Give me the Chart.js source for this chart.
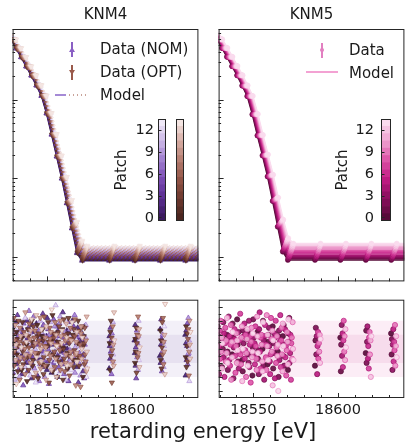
<!DOCTYPE html>
<html>
<head>
<meta charset="utf-8">
<script src="https://cdn.jsdelivr.net/npm/chart.js@4.4.1/dist/chart.umd.min.js"></script>
<style>
  body { margin: 0; width: 406px; height: 443px; overflow: hidden; background: #fff; position: relative;
         font-family: 'DejaVu Sans', sans-serif; color: #1a1a1a; }
  canvas, .abs { position: absolute; }
  .txt { font-size: 15px; line-height: 18px; white-space: nowrap; }
</style>
</head>
<body>
<canvas id="top4" width="195" height="286" style="left:8px;top:0px"></canvas>
<canvas id="top5" width="195" height="286" style="left:214px;top:0px"></canvas>
<canvas id="res4" width="195" height="125" style="left:8px;top:295px"></canvas>
<canvas id="res5" width="195" height="125" style="left:214px;top:295px"></canvas>
<canvas id="cbNOM" width="60" height="115" style="left:110px;top:110px"></canvas>
<canvas id="cbOPT" width="16" height="115" style="left:172px;top:110px"></canvas>
<canvas id="cb5" width="70" height="115" style="left:325px;top:110px"></canvas>

<!-- legend KNM4 -->
<div class="abs" style="left:71.25px;top:42px;width:1.5px;height:15px;background:#8a5fc4"></div>
<div class="abs" style="left:69px;top:46.5px;width:0;height:0;border-left:3px solid transparent;border-right:3px solid transparent;border-bottom:5px solid #8a5fc4"></div>
<div class="abs txt" style="left:100px;top:40px">Data (NOM)</div>
<div class="abs" style="left:71.25px;top:65px;width:1.5px;height:15px;background:#9a5a4b"></div>
<div class="abs" style="left:69px;top:69.5px;width:0;height:0;border-left:3px solid transparent;border-right:3px solid transparent;border-top:5px solid #9a5a4b"></div>
<div class="abs txt" style="left:100px;top:63px">Data (OPT)</div>
<div class="abs" style="left:55px;top:94.25px;width:11px;height:1.5px;background:#a58ad6"></div>
<div class="abs" style="left:69px;top:94.25px;width:19px;height:1.5px;background:repeating-linear-gradient(90deg,#c9a39a 0 1.5px,transparent 1.5px 4px)"></div>
<div class="abs txt" style="left:100px;top:86px">Model</div>

<!-- legend KNM5 -->
<div class="abs" style="left:321.25px;top:42.5px;width:1.5px;height:15px;background:#e27fc0"></div>
<div class="abs" style="left:319.75px;top:47.75px;width:4.5px;height:4.5px;border-radius:50%;background:#e27fc0"></div>
<div class="abs txt" style="left:349px;top:41px">Data</div>
<div class="abs" style="left:306px;top:71.25px;width:32px;height:1.8px;background:#f3a2d3"></div>
<div class="abs txt" style="left:349px;top:63.5px">Model</div>

<div class="abs" style="left:0;top:419px;width:406px;text-align:center;font-size:21px;line-height:24px">retarding energy [eV]</div>

<script>
// ---- data ----
const patches = [0, 1, 2, 3, 4, 5, 6, 7, 8, 9, 10, 11, 12, 13];
const energies = [18530, 18533, 18536, 18539, 18542, 18545, 18548, 18551, 18554, 18557,
                  18560, 18563, 18566, 18569, 18572, 18588, 18603, 18618, 18633];
// signal rate above background (arbitrary units, log axis)
const signal4 = [581, 450, 347, 264, 202, 151, 111, 66, 35, 18, 9.0, 3.9, 1.4, 0.22, 0, 0, 0, 0, 0];
const signal5 = [585, 455, 350, 266, 203, 150, 110, 64, 34, 18.5, 9.6, 4.2, 1.5, 0.25, 0, 0, 0, 0, 0];
// model drawn a little past the scan on both sides
const edgeEnergies = [18527, 18645];
const edgeSignal4 = [752, 0];
const edgeSignal5 = [758, 0];
// per-patch background and retarding-energy offset
const bgNOM  = [0.89, 0.92, 0.95, 0.98, 1.01, 1.04, 1.07, 1.10, 1.13, 1.17, 1.21, 1.25, 1.29, 1.34];
const bgOPT  = [0.90, 0.93, 0.96, 0.99, 1.02, 1.05, 1.09, 1.12, 1.16, 1.20, 1.24, 1.28, 1.33, 1.38];
const bgKNM5 = [0.91, 0.94, 0.97, 1.01, 1.04, 1.08, 1.12, 1.16, 1.20, 1.25, 1.30, 1.35, 1.41, 1.47];
const shiftNOM  = [-1.5, -1.3, -1.1, -0.9, -0.7, -0.5, -0.3, -0.1, 0.1, 0.3, 0.5, 0.7, 0.9, 1.1];
const shiftOPT  = [-1.2, -1.0, -0.8, -0.5, -0.3, -0.1, 0.1, 0.3, 0.6, 0.8, 1.0, 1.2, 1.4, 1.6];
const shiftKNM5 = [-1.6, -1.3, -1.1, -0.8, -0.6, -0.3, -0.1, 0.2, 0.4, 0.7, 0.9, 1.2, 1.4, 1.7];

// normalised residuals, one row per energy, one column per patch
const resNOM = [
  [0.8, -1.2, 0.3, 1.6, -0.4, 2.1, -1.7, 0.5, -0.9, 1.1, 0.2, -2.2, 1.4, -0.6],
  [-0.3, 1.9, -1.1, 0.6, 2.4, -0.8, 0.9, -1.5, 0.1, 1.3, -2.0, 0.7, -0.2, 1.7],
  [1.5, -0.5, -1.8, 0.9, 0.0, 1.2, -2.6, 1.8, -0.7, 0.4, 1.0, -1.3, 2.2, -0.1],
  [-1.0, 0.6, 2.0, -0.3, -1.6, 0.8, 1.5, -0.9, 2.7, -0.4, 0.3, 1.1, -1.9, 0.5],
  [0.2, -2.1, 1.2, 1.7, -0.6, -1.2, 0.4, 2.3, -0.2, -1.4, 1.6, 0.0, 0.9, -2.4],
  [1.8, 0.4, -0.7, -1.9, 1.0, 0.3, -0.4, 1.3, -2.3, 0.7, -1.1, 2.0, -0.5, 1.2],
  [-0.6, 1.1, 0.6, -1.3, 2.5, -0.2, 1.7, -0.8, 0.5, -2.0, 0.9, -0.3, 1.5, 0.1],
  [0.9, -1.5, 2.2, 0.2, -0.9, 1.4, -0.1, -2.5, 1.0, 0.6, -0.7, 1.9, -1.2, 0.4],
  [-1.7, 0.3, -0.4, 1.0, 0.7, -1.0, 2.1, 0.4, -1.4, 1.6, -0.2, 0.8, 3.1, -0.9],
  [0.5, 1.6, -2.0, -0.5, 1.3, 0.9, -1.3, 0.1, 1.8, -0.6, 2.3, -1.6, 0.2, 1.0],
  [-0.2, -0.8, 1.0, 2.6, -1.1, 0.2, 0.8, -1.8, -0.3, 1.2, -0.5, 0.6, -2.2, 1.9],
  [1.3, 0.0, -1.4, 0.4, 1.9, -2.3, 0.5, 1.1, -0.8, -0.1, 1.4, -0.9, 0.7, -1.5],
  [-0.9, 2.0, 0.7, -1.0, -0.2, 1.6, -0.6, 0.9, 2.4, -1.7, 0.1, 1.3, -0.4, 0.6],
  [0.4, -1.3, 1.5, 0.8, -2.4, 0.5, 1.2, -0.3, -1.1, 0.9, -1.9, 0.2, 1.1, -0.7],
  [1.1, 0.7, -0.5, -1.6, 0.6, -0.4, -2.1, 1.6, 0.3, -0.9, 0.8, 1.7, -1.3, -2.0],
  [-1.4, 0.9, 0.2, -0.7, 1.5, -0.2, 0.6, -1.8, 1.1, 0.3, -0.9, 1.9, -0.4, 0.7],
  [0.6, -0.3, 1.7, -1.2, 0.1, -2.1, 0.8, 1.3, -0.6, 0.4, -1.5, 0.9, 2.0, -0.8],
  [-0.5, 1.4, -1.0, 0.3, 2.1, 0.7, -1.6, -0.2, 1.0, -0.9, 0.5, -1.3, 0.2, 1.6],
  [1.0, -1.9, 0.4, 1.3, -0.8, 0.2, 1.8, -1.1, -0.4, 2.2, -0.3, 0.6, -2.3, -0.1]
];
const resOPT = [
  [-0.7, 1.3, -1.9, 0.4, 1.0, -0.3, 2.2, -1.2, 0.6, -0.1, 1.7, -0.8, 0.3, -2.5],
  [1.2, -0.4, 0.7, -1.6, 0.2, 2.0, -0.9, 0.5, -2.2, 1.5, -0.6, 0.9, -1.3, 0.1],
  [-1.5, 0.8, 1.9, -0.2, -1.1, 0.4, 1.2, -0.7, 0.0, -1.8, 2.6, -0.4, 1.0, 0.5],
  [0.3, -2.3, -0.6, 1.4, 0.9, -1.5, 0.1, 1.8, -0.5, 0.7, -1.0, 1.3, -0.2, 2.1],
  [2.0, 0.5, -1.2, -0.8, 1.6, 0.2, -2.0, 0.8, 1.3, -0.3, 0.4, -1.7, 2.4, -0.6],
  [-0.4, 1.7, 0.9, -2.1, -0.3, 1.1, 0.6, -1.0, 0.3, 2.2, -1.4, 0.0, -0.9, 1.4],
  [0.9, -1.1, 1.4, 0.6, -1.8, -0.6, 2.3, 0.2, -1.2, 0.8, 0.1, -2.2, 1.6, -0.3],
  [-1.2, 0.2, -0.3, 1.9, 0.5, -2.4, -0.8, 1.5, 0.7, -0.5, 1.2, 0.4, -1.5, 2.8],
  [0.6, 2.4, -1.6, -0.4, 1.1, 0.8, -0.2, -1.3, 1.9, 0.3, -0.7, 1.0, -2.0, 0.2],
  [-2.0, -0.6, 0.5, 1.2, -0.9, 1.6, 0.3, -0.1, -1.5, 2.0, 0.9, -1.1, 0.4, 1.3],
  [1.4, 0.1, -2.2, 0.0, 2.1, -0.7, 1.0, -1.6, 0.6, -1.0, -0.4, 1.8, 0.8, -1.2],
  [-0.3, -1.4, 1.1, 2.2, -0.5, 0.4, -1.9, 0.7, 1.5, -0.2, -1.1, 0.6, -0.6, 1.9],
  [0.7, 1.0, -0.8, -1.3, 1.4, -0.1, 0.9, 2.1, -0.4, -2.6, 0.5, -0.3, 1.2, -0.9],
  [-0.8, 0.4, 2.0, -0.6, -1.2, 1.3, -0.5, 0.3, -2.7, 1.1, 1.6, -0.7, 0.0, 0.8],
  [1.6, -2.0, 0.2, 0.9, 0.4, -1.1, 1.5, -0.4, -0.9, 0.6, -1.6, 2.3, -0.2, -1.4],
  [0.4, -1.5, 1.2, 2.0, -0.5, 0.8, -2.4, -0.1, 1.6, -0.9, 0.3, -1.2, 2.6, 0.6],
  [-1.0, 0.7, -0.2, 1.5, -1.7, 0.4, 1.0, -0.6, 2.3, -0.3, 0.9, 1.4, -1.3, 0.1],
  [1.3, -0.8, 0.6, -1.4, 0.1, 1.9, -0.4, 2.2, -1.1, 0.5, -0.2, 1.0, -1.8, 3.2],
  [-0.6, 1.6, -1.3, 0.2, 1.1, -0.9, 0.7, 1.4, -1.9, -0.2, 2.0, 0.3, -0.7, 1.2]
];
const resKNM5 = [
  [0.5, -1.1, 1.6, -0.3, 0.9, -1.8, 0.2, 1.3, -0.7, 2.0, -0.2, 0.8, -1.4, 0.4],
  [-1.3, 0.7, 0.0, 1.9, -0.6, 1.1, -2.0, 0.4, 1.5, -0.9, 0.6, -0.3, 2.2, -1.0],
  [1.0, -0.2, -1.5, 0.6, 2.3, -0.8, 0.9, -1.2, 0.3, 1.7, -2.2, 0.5, -0.6, 1.2],
  [-0.4, 1.8, 0.8, -2.1, 0.1, 0.7, 1.4, -0.5, -1.7, 0.2, 1.1, -1.0, 0.6, -0.1],
  [2.1, 0.3, -0.9, 1.2, -1.4, -0.2, 0.6, 2.5, -0.4, -1.1, 0.8, 1.6, -2.3, 0.0],
  [-0.8, -1.6, 1.3, 0.4, 0.9, 1.8, -0.7, -0.1, 1.0, -2.0, -0.3, 0.7, 1.4, -1.2],
  [0.7, 1.2, -0.4, -1.0, 2.0, -1.3, 0.3, 0.9, -2.4, 0.5, 1.5, -0.6, -0.2, 1.1],
  [-1.9, 0.1, 2.1, 0.8, -0.5, 0.4, -1.1, 1.6, 0.2, -0.7, -1.5, 2.3, 0.9, -0.3],
  [1.2, -0.7, -0.1, -1.8, 1.4, 2.6, -0.2, -1.4, 0.8, 1.0, 0.3, -0.9, -1.6, 1.9],
  [0.0, 2.0, -1.2, 0.6, -2.2, 0.9, 1.7, 0.3, -0.6, -1.5, 2.4, 0.2, 1.0, -0.8],
  [-1.1, 0.5, 1.0, 1.5, 0.2, -0.9, -1.8, -0.4, 2.2, 0.7, -0.2, 1.3, -2.6, 0.6],
  [1.6, -1.4, 0.4, -0.3, 1.1, -2.1, 0.8, 2.0, -1.0, 0.1, 0.9, -0.5, 0.3, -3.0],
  [-0.2, 0.9, -2.0, 1.3, -0.8, 0.5, 2.4, -1.3, 0.6, 1.5, -0.4, -1.6, 1.8, 0.2],
  [0.9, -0.5, 1.7, -1.2, 0.3, 1.4, -0.6, 0.2, -1.9, -0.1, 1.2, 0.5, -1.1, 2.1],
  [-1.5, 1.1, 0.5, 2.2, -1.0, -0.3, 1.0, -2.2, 0.4, 0.8, -0.7, 1.9, 0.0, -0.8],
  [-1.2, 0.6, 1.5, -0.4, 0.9, -1.8, 0.2, 1.2, -0.7, 0.4, -0.2, 1.0, -1.0, 0.7],
  [0.8, -1.6, 0.3, 1.7, -0.5, 1.1, -1.3, 0.6, 2.0, -0.2, 0.9, -0.8, 1.4, 0.1],
  [-0.3, 1.3, -1.0, 0.5, 1.6, -0.7, 0.2, -1.4, 0.8, 1.2, -0.4, 0.6, -2.0, 0.9],
  [1.1, -0.4, 0.7, -1.5, 0.3, 1.4, -0.9, 0.5, -0.1, 1.7, -1.2, 0.2, 0.9, -0.6]
];

// axes
const xRange = [18529.5, 18639.2];
const xTickLabels = [18550, 18600];
const rateRange = [0.485, 794];
const rateMajorTicks = [1, 10, 100];
const resRange = [-3.5, 3.5];
const sigmaBands = [2, 1];
const patchTicks = [0, 3, 6, 9, 12];

// ---- colours ----
const cmapNOM = ['#3a1a5e', '#5a2d91', '#7a4bb3', '#a07fcf', '#cbb6e6', '#efe8f7'];
const cmapOPT = ['#4b261f', '#6e3a2f', '#925446', '#b57d70', '#d6aca3', '#f4e5e2'];
const cmapKNM5 = ['#570b39', '#8a0f5e', '#c01c83', '#dc52a6', '#eea0cf', '#fadbee'];

function hexRgb(h) { return [1, 3, 5].map(i => parseInt(h.slice(i, i + 2), 16)); }
function cmap(anchors, t, a) {
  t = Math.min(1, Math.max(0, t));
  const s = t * (anchors.length - 1), i = Math.min(anchors.length - 2, Math.floor(s)), f = s - i;
  const c0 = hexRgb(anchors[i]), c1 = hexRgb(anchors[i + 1]);
  const c = c0.map((v, k) => Math.round(v + (c1[k] - v) * f));
  return `rgba(${c[0]},${c[1]},${c[2]},${a === undefined ? 1 : a})`;
}
const pc = (anchors, p, a) => cmap(anchors, p / 13, a);

Chart.defaults.font.family = "'DejaVu Sans', sans-serif";

// ---- plugin: matplotlib-like frame with inward ticks ----
const axisDeco = {
  id: 'axisDeco',
  afterDraw(chart, args, o) {
    if (!o || !o.on) return;
    const { ctx, chartArea: a } = chart;
    const xs = chart.scales.x, ys = chart.scales.y;
    ctx.save();
    ctx.strokeStyle = '#262626';
    ctx.lineWidth = 1;
    ctx.beginPath();
    const tx = (v, len) => {
      const px = Math.round(xs.getPixelForValue(v)) + 0.5;
      if (px < a.left || px > a.right) return;
      ctx.moveTo(px, a.bottom); ctx.lineTo(px, a.bottom - len);
    };
    const ty = (v, len) => {
      const py = Math.round(ys.getPixelForValue(v)) + 0.5;
      if (py < a.top || py > a.bottom) return;
      ctx.moveTo(a.left, py); ctx.lineTo(a.left + len, py);
    };
    for (let v = 18530; v <= 18640; v += 10) tx(v, xTickLabels.includes(v) ? 5 : 3);
    if (o.log) {
      rateMajorTicks.forEach(v => ty(v, 5));
      [0.1, 1, 10, 100].forEach(d => { for (let k = 2; k <= 9; k++) ty(k * d, 2.5); });
    } else {
      for (let v = -3; v <= 3; v += 0.5) ty(v, Number.isInteger(v) ? 4 : 2.5);
    }
    ctx.stroke();
    ctx.strokeRect(a.left + 0.5, a.top + 0.5, a.right - a.left - 1, a.bottom - a.top - 1);
    if (o.labels) {
      ctx.fillStyle = '#1a1a1a';
      ctx.font = "14.5px 'DejaVu Sans'";
      ctx.textAlign = 'center';
      ctx.textBaseline = 'middle';
      xTickLabels.forEach(v => ctx.fillText(String(v), xs.getPixelForValue(v), a.bottom + 12));
    }
    ctx.restore();
  }
};

// ---- plugin: colour-bar frame, ticks and label ----
const cbDeco = {
  id: 'cbDeco',
  afterDraw(chart, args, o) {
    if (!o || !o.on) return;
    const { ctx, chartArea: a } = chart;
    const ys = chart.scales.y;
    ctx.save();
    ctx.strokeStyle = '#262626';
    ctx.lineWidth = 1;
    ctx.strokeRect(a.left + 0.5, a.top + 0.5, a.right - a.left - 1, a.bottom - a.top - 1);
    if (o.ticks) {
      ctx.beginPath();
      patchTicks.forEach(v => {
        const py = Math.round(ys.getPixelForValue(v)) + 0.5;
        ctx.moveTo(a.left, py); ctx.lineTo(a.left + 3.5, py);
      });
      ctx.stroke();
      ctx.fillStyle = '#1a1a1a';
      ctx.font = "14.5px 'DejaVu Sans'";
      ctx.textAlign = 'right';
      ctx.textBaseline = 'middle';
      patchTicks.forEach(v => ctx.fillText(String(v), a.left - o.gap, ys.getPixelForValue(v) + 0.5));
      ctx.translate(a.left - o.titleOff, (a.top + a.bottom) / 2);
      ctx.rotate(-Math.PI / 2);
      ctx.textAlign = 'center';
      ctx.font = "15px 'DejaVu Sans'";
      ctx.fillText('Patch', 0, 0);
    }
    ctx.restore();
  }
};
Chart.register(axisDeco, cbDeco);

// ---- dataset builders ----
function modelLine(sig, edgeSig, bg, shift, p, anchors, dash) {
  const e = [edgeEnergies[0], ...energies, edgeEnergies[1]];
  const s = [edgeSig[0], ...sig, edgeSig[1]];
  return {
    data: e.map((v, i) => ({ x: v + shift[p], y: s[i] + bg[p] })),
    showLine: true, pointRadius: 0, borderWidth: 1.5,
    borderColor: pc(anchors, p), borderDash: dash || []
  };
}
function rateMarkers(sig, bg, shift, p, anchors, style, rot, r) {
  return {
    data: energies.map((v, i) => ({ x: v + shift[p], y: sig[i] + bg[p] })),
    pointStyle: style, pointRotation: rot, pointRadius: r,
    pointBackgroundColor: pc(anchors, p), pointBorderColor: pc(anchors, p + 1.5),
    pointBorderWidth: 0.6
  };
}
function resMarkers(res, shift, p, anchors, style, rot, r) {
  return {
    data: energies.map((v, i) => ({ x: v + shift[p], y: res[i][p] })),
    pointStyle: style, pointRotation: rot, pointRadius: r,
    pointBackgroundColor: pc(anchors, p, 0.92), pointBorderColor: pc(anchors, p - 3),
    pointBorderWidth: 0.7
  };
}
function bands(outer, inner) {
  return sigmaBands.map((s, k) => ({
    data: [{ x: 18500, y: s }, { x: 18700, y: s }],
    showLine: true, pointRadius: 0, borderWidth: 0,
    fill: { value: -s }, backgroundColor: k === 0 ? outer : inner
  }));
}
// later in the list = drawn on top
function stackOrder(list) {
  list.forEach((d, i) => { d.order = list.length - i; });
  return list;
}
// patch by patch: data then model, later patches on top
function perPatch(fn) { return patches.flatMap(fn); }

function baseOptions(yScale, deco, title) {
  return {
    responsive: false, animation: false, events: [],
    layout: { padding: title ? { left: 1, right: 1, top: 0, bottom: 1 } : { left: 1, right: 1, top: 1, bottom: 22 } },
    plugins: {
      legend: { display: false }, tooltip: { enabled: false },
      title: title ? { display: true, text: title, color: '#1a1a1a',
        font: { size: 15, weight: 'normal' }, padding: { top: 6, bottom: 5 } } : { display: false },
      axisDeco: deco
    },
    scales: {
      x: { type: 'linear', display: false, min: xRange[0], max: xRange[1] },
      y: yScale
    }
  };
}
const logY = { type: 'logarithmic', display: false, min: rateRange[0], max: rateRange[1] };
const linY = { type: 'linear', display: false, min: resRange[0], max: resRange[1] };

// KNM4 rates
new Chart(document.getElementById('top4'), {
  type: 'scatter',
  data: { datasets: stackOrder([
    ...perPatch(p => [rateMarkers(signal4, bgNOM, shiftNOM, p, cmapNOM, 'triangle', 0, 3),
                      modelLine(signal4, edgeSignal4, bgNOM, shiftNOM, p, cmapNOM)]),
    ...perPatch(p => [rateMarkers(signal4, bgOPT, shiftOPT, p, cmapOPT, 'triangle', 180, 3),
                      modelLine(signal4, edgeSignal4, bgOPT, shiftOPT, p, cmapOPT, [1.5, 2.5])])
  ]) },
  options: baseOptions(logY, { on: true, log: true }, 'KNM4')
});

// KNM5 rates
new Chart(document.getElementById('top5'), {
  type: 'scatter',
  data: { datasets: stackOrder(
    perPatch(p => [rateMarkers(signal5, bgKNM5, shiftKNM5, p, cmapKNM5, 'circle', 0, 2.5),
                   modelLine(signal5, edgeSignal5, bgKNM5, shiftKNM5, p, cmapKNM5)])
  ) },
  options: baseOptions(logY, { on: true, log: true }, 'KNM5')
});

// KNM4 residuals
new Chart(document.getElementById('res4'), {
  type: 'scatter',
  data: { datasets: stackOrder([...bands('#f3f0f8', '#e7e1f0'),
    ...perPatch(p => [resMarkers(resNOM, shiftNOM, p, cmapNOM, 'triangle', 0, 3)]),
    ...perPatch(p => [resMarkers(resOPT, shiftOPT, p, cmapOPT, 'triangle', 180, 3)])]) },
  options: baseOptions(linY, { on: true, log: false, labels: true })
});

// KNM5 residuals
new Chart(document.getElementById('res5'), {
  type: 'scatter',
  data: { datasets: stackOrder([...bands('#fcedf6', '#f7dcec'),
    ...perPatch(p => [resMarkers(resKNM5, shiftKNM5, p, cmapKNM5, 'circle', 0, 2.6)])]) },
  options: baseOptions(linY, { on: true, log: false, labels: true })
});

// colour bars
function colourBar(id, anchors, pad, deco) {
  new Chart(document.getElementById(id), {
    type: 'bar',
    data: { labels: ['patch'], datasets: patches.map(p => ({
      data: [[p - 0.5, p + 0.5]], backgroundColor: pc(anchors, p), borderWidth: 0,
      barPercentage: 1, categoryPercentage: 1, grouped: false
    })) },
    options: {
      responsive: false, animation: false, events: [],
      layout: { padding: pad },
      plugins: { legend: { display: false }, tooltip: { enabled: false }, cbDeco: deco },
      scales: {
        x: { display: false },
        y: { display: false, min: -0.5, max: 13.5 }
      }
    }
  });
}
colourBar('cbNOM', cmapNOM, { left: 48, right: 4, top: 9, bottom: 4 }, { on: true, ticks: true, gap: 4, titleOff: 36 });
colourBar('cbOPT', cmapOPT, { left: 4, right: 4, top: 9, bottom: 4 }, { on: true, ticks: false });
colourBar('cb5', cmapKNM5, { left: 56, right: 4, top: 9, bottom: 4 }, { on: true, ticks: true, gap: 7, titleOff: 38 });
</script>
</body>
</html>
